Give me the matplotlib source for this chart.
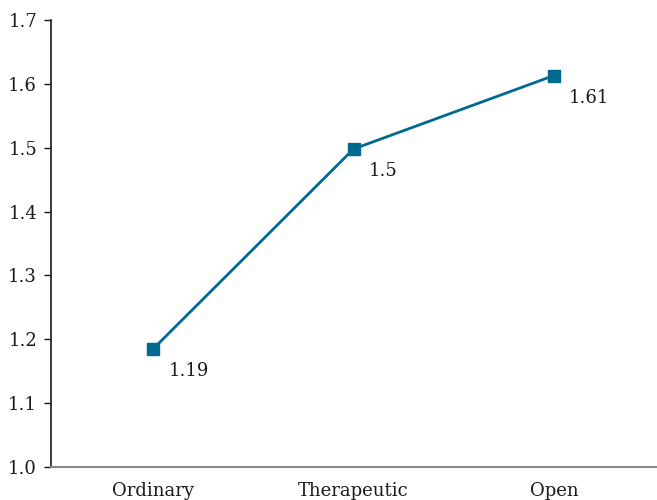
import matplotlib
matplotlib.use('Agg')
from matplotlib import pyplot as plt

categories = ['Ordinary', 'Therapeutic', 'Open']
values = [1.185, 1.498, 1.613]
point_labels = ['1.19', '1.5', '1.61']
yticks = [1.0, 1.1, 1.2, 1.3, 1.4, 1.5, 1.6, 1.7]

plt.rcParams['font.family'] = ['DejaVu Serif']

fig = plt.figure(figsize=(6.57, 5.0), dpi=100)
ax = fig.add_axes([0.0776, 0.066, 0.921, 0.894])

x = list(range(len(categories)))
ax.plot(x, values, color='#00698f', linewidth=2, marker='s', markersize=9,
        markerfacecolor='#00698f', markeredgecolor='#00698f')

for xi, v, lab in zip(x, values, point_labels):
    ax.annotate(lab, (xi, v), xytext=(11, -16), textcoords='offset points',
                ha='left', va='center', fontsize=13, color='#1a1a1a')

ax.set_xlim(-0.51, 2.51)
ax.set_ylim(1.0, 1.7)
ax.set_yticks(yticks)
ax.set_yticklabels(['%.1f' % t for t in yticks])
ax.set_xticks(x)
ax.set_xticklabels(categories)

ax.tick_params(axis='y', direction='out', length=5, width=1, labelsize=13, pad=5, colors='#1a1a1a')
ax.tick_params(axis='x', length=0, labelsize=13, pad=11, colors='#1a1a1a')

ax.spines['top'].set_visible(False)
ax.spines['right'].set_visible(False)
ax.spines['left'].set_color('#1a1a1a')
ax.spines['left'].set_linewidth(1.2)
ax.spines['bottom'].set_color('#888888')
ax.spines['bottom'].set_linewidth(1.5)

fig.savefig('out.png', dpi=100)
